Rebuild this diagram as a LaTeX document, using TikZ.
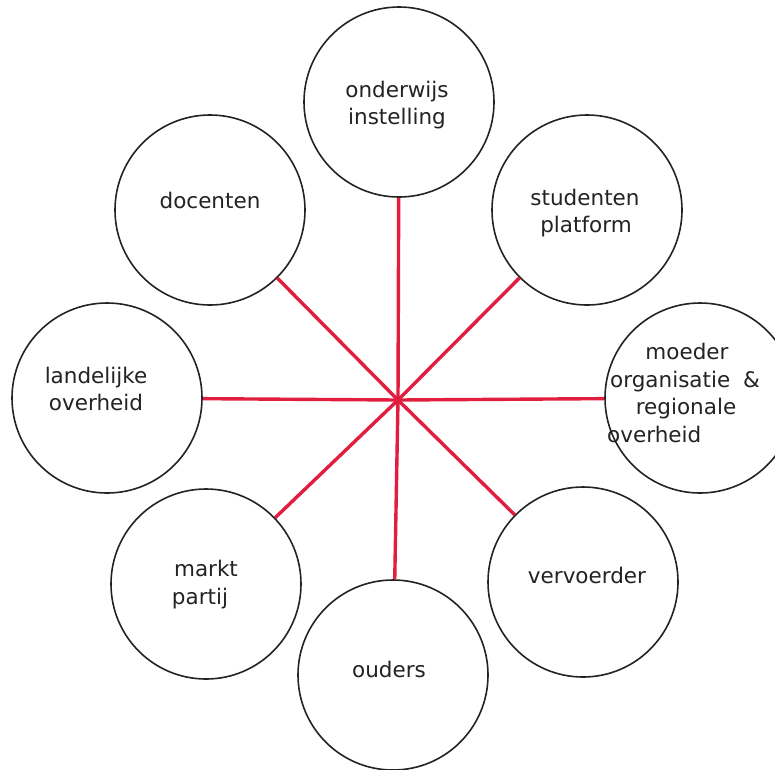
\documentclass[tikz,border=0pt]{standalone}
\usepackage{fontspec}
\setmainfont{DejaVu Sans}
\definecolor{linkred}{RGB}{226,30,62}
\definecolor{inkgray}{RGB}{35,35,35}
\begin{document}
\begin{tikzpicture}[x=1pt,y=-1pt,
  circ/.style={circle,draw=inkgray,line width=1.6pt,minimum size=190pt,inner sep=0pt},
  txt/.style={inner sep=0pt,anchor=base,font=\fontsize{21.5}{27}\selectfont,text=inkgray},
  txtw/.style={txt,anchor=base west},
  link/.style={draw=linkred,line width=3.4pt}]
\useasboundingbox (0,0) rectangle (775,769);
\fill[white] (0,0) rectangle (775,769);
\coordinate (c) at (398,400);
\begin{scope}
\clip (0,0) rectangle (775,769);
\node[circ] (onderwijs) at (399,102) {};
\node[circ] (studenten) at (587,210) {};
\node[circ] (moeder) at (700,398) {};
\node[circ] (vervoerder) at (583,582) {};
\node[circ] (ouders) at (393,675) {};
\node[circ] (markt) at (206,584) {};
\node[circ] (landelijke) at (107,398) {};
\node[circ] (docenten) at (210,210) {};
\end{scope}
\foreach \n in {onderwijs,studenten,moeder,vervoerder,ouders,markt,landelijke,docenten}
  \draw[link] (c) -- (\n);
% texts
\node[txt] (t1a) at (397,97) {onderwijs};
\node[txt] (t1b) at (397,124) {instelling};
\node[txt] (t2a) at (585,205) {studenten};
\node[txt] (t2b) at (586,232) {platform};
\node[txt] (t3a) at (687,359) {moeder};
\node[txtw] (t3b) at (610,387) {organisatie\hspace{0.6em}\&};
\node[txt] (t3c) at (686,414) {regionale};
\node[txtw] (t3d) at (607,442) {overheid};
\node[txt] (t4) at (587,583) {vervoerder};
\node[txt] (t5) at (389,677) {ouders};
\node[txt] (t6a) at (206,576) {markt};
\node[txt] (t6b) at (200,604) {partij};
\node[txt] (t7a) at (96,383) {landelijke};
\node[txt] (t7b) at (96,410) {overheid};
\node[txt] (t8) at (210,208) {docenten};
\end{tikzpicture}
\end{document}
